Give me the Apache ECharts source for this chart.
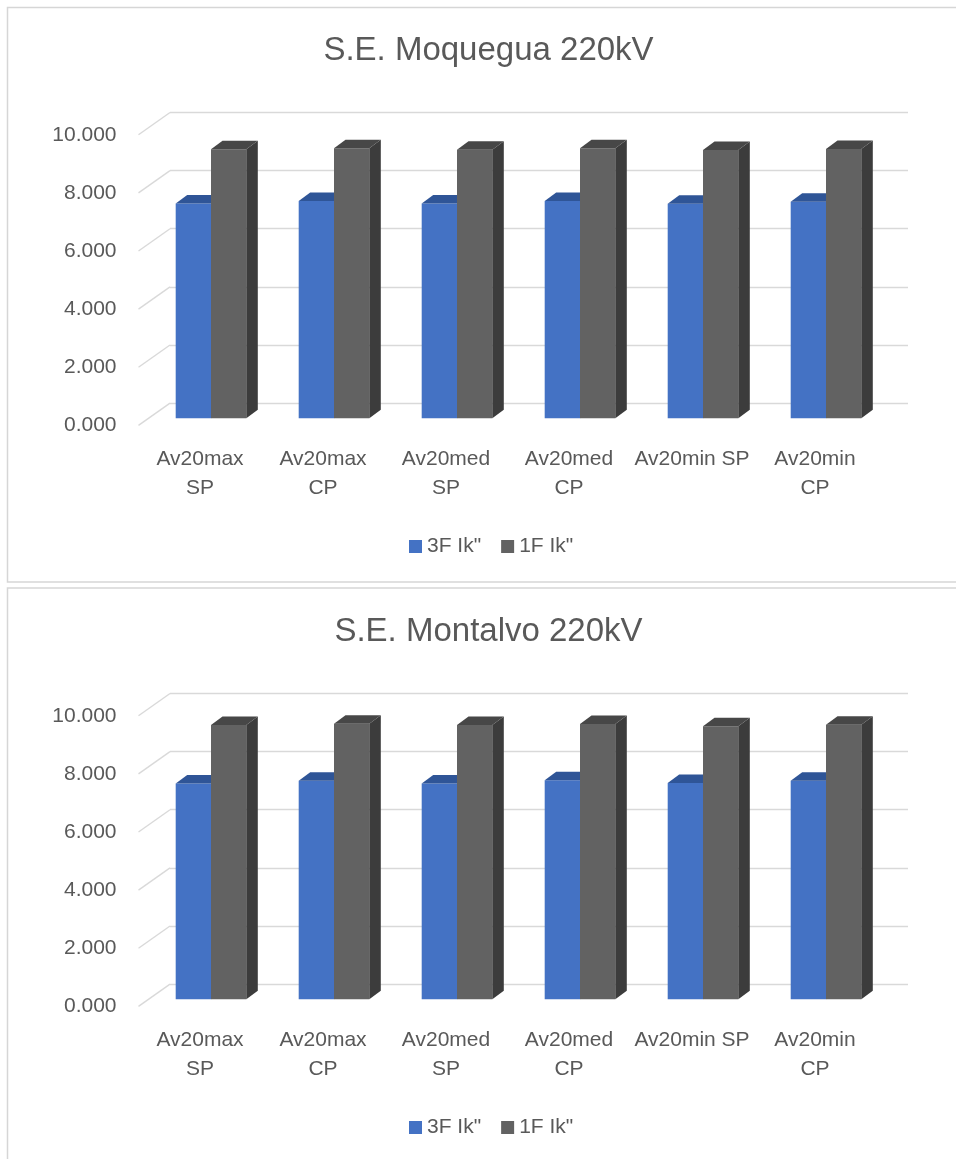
<!DOCTYPE html>
<html>
<head>
<meta charset="utf-8">
<script src="https://cdn.jsdelivr.net/npm/echarts@6/dist/echarts.min.js"></script>
<style>
  html, body { margin: 0; padding: 0; background: #ffffff; }
  #chart { width: 956px; height: 1159px; }
</style>
</head>
<body>
<div id="chart"></div>
<script>
// Short-circuit currents (kA) per operating scenario
const categories = ['Av20max\nSP', 'Av20max\nCP', 'Av20med\nSP', 'Av20med\nCP', 'Av20min SP', 'Av20min\nCP'];
const seriesNames = ['3F Ik"', '1F Ik"'];
const moqueguaIk3F = [7.39, 7.48, 7.39, 7.48, 7.38, 7.45];
const moqueguaIk1F = [9.26, 9.29, 9.24, 9.29, 9.23, 9.27];
const montalvoIk3F = [7.43, 7.52, 7.43, 7.54, 7.44, 7.52];
const montalvoIk1F = [9.44, 9.48, 9.44, 9.47, 9.40, 9.45];
const gridTicks = [0, 2, 4, 6, 8, 10];
const titles = ['S.E. Moquegua 220kV', 'S.E. Montalvo 220kV'];

const FONT = 'Liberation Sans, Arial, sans-serif';
const TEXT = '#595959';
const GRIDLINE = '#d9d9d9';
const PANEL_STEP = 581;
const DEPTH_DX = 11.5, DEPTH_DY = -8.5;       // bar depth (oblique)
const FLOOR_DX = -31.5, FLOOR_DY = 22.3;      // floor depth from back wall to front edge
const faces = [
  { front: '#4472C4', top: '#2F5597', side: '#264478' },
  { front: '#626262', top: '#474747', side: '#3C3C3C' }
];

const grids = [], xAxes = [], yAxes = [], series = [], legends = [], graphics = [];

function bar3d(kind, offsetSign) {
  return function (params, api) {
    const c = faces[kind];
    const base = api.coord([api.value(0), 0]);
    const top = api.coord([api.value(0), api.value(1)]);
    const band = api.size([1, 0])[0];
    const w = band * 0.287;
    const x0 = base[0] + (offsetSign < 0 ? -w : 0);
    const x1 = x0 + w;
    const yb = base[1], yt = top[1];
    return {
      type: 'group',
      children: [
        { type: 'rect', shape: { x: x0, y: yt, width: w, height: yb - yt }, style: { fill: c.front } },
        { type: 'polygon', shape: { points: [[x1, yt], [x1 + DEPTH_DX, yt + DEPTH_DY], [x1 + DEPTH_DX, yb + DEPTH_DY], [x1, yb]] }, style: { fill: c.side } },
        { type: 'polygon', shape: { points: [[x0, yt], [x1, yt], [x1 + DEPTH_DX, yt + DEPTH_DY], [x0 + DEPTH_DX, yt + DEPTH_DY]] }, style: { fill: c.top } }
      ]
    };
  };
}

function floorLine(params, api) {
  const p = api.coord([api.value(0), api.value(1)]);
  return {
    type: 'line',
    shape: { x1: p[0], y1: p[1], x2: p[0] + FLOOR_DX, y2: p[1] + FLOOR_DY },
    style: { stroke: GRIDLINE, lineWidth: 1.4 }
  };
}

const panels = [
  { ik3: moqueguaIk3F, ik1: moqueguaIk1F },
  { ik3: montalvoIk3F, ik1: montalvoIk1F }
];

panels.forEach(function (panel, k) {
  const oy = k * PANEL_STEP;
  const g = k * 3;

  // back wall with gridlines
  grids.push({ left: 170, top: 112.5 + oy, width: 738, height: 290.6 });
  xAxes.push({ gridIndex: g, type: 'value', min: 0, max: 1, show: false });
  yAxes.push({
    gridIndex: g, type: 'value', min: 0, max: 10, interval: 2,
    axisLine: { show: false }, axisTick: { show: false }, axisLabel: { show: false },
    splitLine: { show: true, lineStyle: { color: GRIDLINE, width: 1.4 } }
  });

  // front floor edge carrying the axis labels
  grids.push({ left: 170 + FLOOR_DX, top: 112.5 + FLOOR_DY + oy, width: 738, height: 290.6 });
  xAxes.push({
    gridIndex: g + 1, type: 'category', data: categories,
    axisLine: { show: false }, axisTick: { show: false }, splitLine: { show: false },
    axisLabel: { interval: 0, margin: 19, color: TEXT, fontSize: 21, fontFamily: FONT, lineHeight: 29, align: 'center' }
  });
  yAxes.push({
    gridIndex: g + 1, type: 'value', min: 0, max: 10, interval: 2,
    axisLine: { show: false }, axisTick: { show: false }, splitLine: { show: false },
    axisLabel: { margin: 22, color: TEXT, fontSize: 21, fontFamily: FONT, formatter: function (v) { return v.toFixed(3); } }
  });

  // bar front plane
  grids.push({ left: 149.5, top: 127.7 + oy, width: 738, height: 290.6 });
  xAxes.push({ gridIndex: g + 2, type: 'category', data: categories, show: false });
  yAxes.push({ gridIndex: g + 2, type: 'value', min: 0, max: 10, interval: 2, show: false });

  series.push({
    type: 'custom', xAxisIndex: g, yAxisIndex: g, clip: false, silent: true,
    renderItem: floorLine, data: gridTicks.map(function (v) { return [0, v]; }), z: 1
  });
  series.push({
    name: seriesNames[0], type: 'custom', xAxisIndex: g + 2, yAxisIndex: g + 2, clip: false,
    itemStyle: { color: faces[0].front }, renderItem: bar3d(0, -1),
    data: panel.ik3.map(function (v, i) { return [i, v]; }), z: 3
  });
  series.push({
    name: seriesNames[1], type: 'custom', xAxisIndex: g + 2, yAxisIndex: g + 2, clip: false,
    itemStyle: { color: faces[1].front }, renderItem: bar3d(1, 1),
    data: panel.ik1.map(function (v, i) { return [i, v]; }), z: 4
  });

  legends.push({
    data: seriesNames, left: 409, top: 536 + oy, padding: 0,
    icon: 'rect', itemWidth: 13, itemHeight: 13, itemGap: 20,
    textStyle: { color: TEXT, fontSize: 21, fontFamily: FONT },
    selectedMode: false
  });

  graphics.push({
    type: 'rect', shape: { x: 7.5, y: 7.5 + (k === 0 ? 0 : 580.5), width: 1000, height: k === 0 ? 574.5 : 700 },
    style: { fill: null, stroke: '#d6d6d6', lineWidth: 1.5 }, silent: true, z: -10
  });
  graphics.push({
    type: 'text', x: 488.5, y: 51 + oy,
    style: { text: titles[k], fill: TEXT, font: '33px ' + FONT, textAlign: 'center', textVerticalAlign: 'middle' },
    silent: true
  });
});

const chart = echarts.init(document.getElementById('chart'), null, { renderer: 'canvas' });
chart.setOption({
  animation: false,
  backgroundColor: '#ffffff',
  grid: grids,
  xAxis: xAxes,
  yAxis: yAxes,
  legend: legends,
  graphic: graphics,
  series: series
});
</script>
</body>
</html>
